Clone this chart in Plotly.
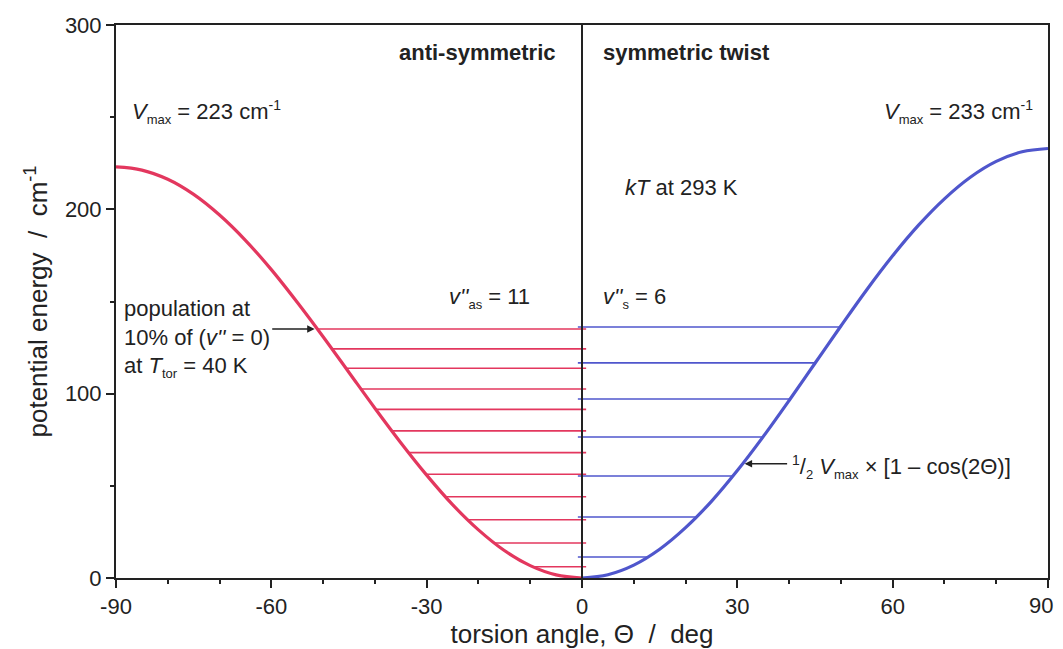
import numpy as np
import plotly.graph_objects as go

angle_left = [-90, -85, -80, -75, -70, -65, -60, -55, -50, -45, -40, -35, -30, -25, -20, -15, -10, -5, 0]
energy_anti = [223.0, 221.3, 216.3, 208.1, 196.9, 183.2, 167.3, 149.6, 130.9, 111.5,
               92.1, 73.4, 55.8, 39.8, 26.1, 14.9, 6.7, 1.7, 0.0]
angle_right = [0, 5, 10, 15, 20, 25, 30, 35, 40, 45, 50, 55, 60, 65, 70, 75, 80, 85, 90]
energy_sym = [0.0, 1.8, 7.0, 15.6, 27.3, 41.6, 58.3, 76.7, 96.3, 116.5,
              136.7, 156.4, 174.8, 191.4, 205.7, 217.4, 226.0, 231.2, 233.0]

# vibrational levels (v'' = 0 ... n)
levels_anti = [6.1, 19.0, 31.6, 44.1, 56.3, 68.0, 79.8, 91.5, 102.5, 113.8, 124.3, 135.1]
levels_sym = [11.4, 33.1, 55.3, 76.5, 97.1, 116.7, 136.2]

x_ticks = [-90, -60, -30, 0, 30, 60, 90]
x_ticklabels = ["-90", "-60", "-30", "0", "30", "60", "90"]
y_ticks = [0, 100, 200, 300]

RED = "#E3375E"
BLUE = "#4F56CC"
FONT = "Arial, Liberation Sans, sans-serif"
TXT = "#222222"


def sub(s):
    return f"<sub><span style='font-size:13px'>{s}</span></sub>"


def sup(s):
    return f"<sup><span style='font-size:14px'>{s}</span></sup>"


def level_segments(levels, xp_energy, fp_angle, end):
    xs, ys = [], []
    for e in levels:
        start = float(np.interp(e, xp_energy, fp_angle))
        xs += [start, end, None]
        ys += [e, e, None]
    return xs, ys


fig = go.Figure()

ax_, ay_ = level_segments(levels_anti, energy_anti[::-1], angle_left[::-1], 0.8)
fig.add_trace(go.Scatter(x=ax_, y=ay_, mode="lines", line=dict(color=RED, width=1.6),
                         hoverinfo="skip", showlegend=False))
bx_, by_ = level_segments(levels_sym, energy_sym, angle_right, -0.8)
fig.add_trace(go.Scatter(x=bx_, y=by_, mode="lines", line=dict(color=BLUE, width=1.6),
                         hoverinfo="skip", showlegend=False))

fig.add_trace(go.Scatter(x=angle_left, y=energy_anti, mode="lines",
                         line=dict(color=RED, width=3.2, shape="spline"), showlegend=False))
fig.add_trace(go.Scatter(x=angle_right, y=energy_sym, mode="lines",
                         line=dict(color=BLUE, width=3.2, shape="spline"), showlegend=False))

# central divider
fig.add_shape(type="line", x0=0, x1=0, y0=0, y1=300, xref="x", yref="y",
              line=dict(color="#222", width=2))

notes = [
    dict(x=-4.6, y=285, text="<b>anti-symmetric</b>", xanchor="right"),
    dict(x=3.7, y=285, text="<b>symmetric twist</b>", xanchor="left"),
    dict(x=-87.3, y=253, text=f"<i>V</i>{sub('max')} = 223 cm{sup('-1')}", xanchor="left"),
    dict(x=87.5, y=253, text=f"<i>V</i>{sub('max')} = 233 cm{sup('-1')}", xanchor="right"),
    dict(x=7.9, y=212, text="<i>kT</i> at 293 K", xanchor="left"),
    dict(x=-26.1, y=152, text=f"<i>v''</i>{sub('as')} = 11", xanchor="left"),
    dict(x=3.7, y=152, text=f"<i>v''</i>{sub('s')} = 6", xanchor="left"),
    dict(x=-88.8, y=130,
         text=f"population at<br>10% of (<i>v''</i> = 0)<br>at <i>T</i>{sub('tor')} = 40 K",
         xanchor="left", align="left"),
    dict(x=40.2, y=60,
         text=f"{sup('1')}/{sub('2')} <i>V</i>{sub('max')} × [1 – cos(2Θ)]", xanchor="left"),
]
for n in notes:
    fig.add_annotation(xref="x", yref="y", showarrow=False, yanchor="middle",
                       font=dict(family=FONT, size=22, color=TXT), **n)

# arrows
pop_e = levels_anti[-1]
pop_x = float(np.interp(pop_e, energy_anti[::-1], angle_left[::-1]))
fig.add_annotation(x=pop_x - 0.5, y=pop_e, ax=-44, ay=0, text="", showarrow=True,
                   arrowhead=2, arrowsize=1, arrowwidth=1.5, arrowcolor="#222")
f_e = 62
f_x = float(np.interp(f_e, energy_sym, angle_right))
fig.add_annotation(x=f_x + 0.4, y=f_e, ax=44, ay=0, text="", showarrow=True,
                   arrowhead=2, arrowsize=1, arrowwidth=1.5, arrowcolor="#222")

# last x tick label sits at the window edge: draw it right-aligned so it is not clipped
fig.add_annotation(x=x_ticks[-1], y=0, xref="x", yref="y", text=x_ticklabels[-1],
                   showarrow=False, xanchor="right", yanchor="top", xshift=7, yshift=-13,
                   font=dict(family=FONT, size=22, color=TXT))
tick_text = x_ticklabels[:-1] + [""]

# page body adds an 8px offset, so the figure is sized to fit inside the window
fig.update_layout(
    width=1055, height=641,
    margin=dict(l=108, r=15, t=17, b=71),
    paper_bgcolor="white", plot_bgcolor="white",
    font=dict(family=FONT, size=20, color=TXT),
)
fig.update_xaxes(range=[-90, 90], tickvals=x_ticks, ticktext=tick_text, automargin=False,
                 ticks="outside", ticklen=8, tickwidth=2, tickcolor="#222",
                 minor=dict(dtick=10, ticks="outside", ticklen=4, tickcolor="#222", tickwidth=1.5),
                 showgrid=False, zeroline=False, showline=True, linecolor="#222", linewidth=2,
                 mirror=True, tickfont=dict(size=22),
                 title=dict(text="torsion angle, Θ  /  deg", font=dict(size=26), standoff=4))
fig.update_yaxes(range=[0, 300], tickvals=y_ticks, automargin=False,
                 ticks="outside", ticklen=8, tickwidth=2, tickcolor="#222",
                 minor=dict(dtick=50, ticks="outside", ticklen=4, tickcolor="#222", tickwidth=1.5),
                 showgrid=False, zeroline=False, showline=True, linecolor="#222", linewidth=2,
                 mirror=True, tickfont=dict(size=22),
                 title=dict(text="potential energy  /  cm<sup>-1</sup>", font=dict(size=26), standoff=10))

fig.write_html("out.html")
